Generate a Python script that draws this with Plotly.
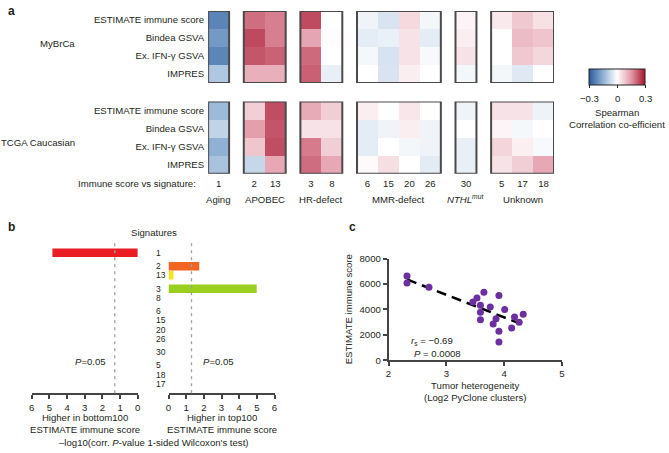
import numpy as np
import plotly.graph_objects as go

W, H = 669, 453
FONT = "Arial, 'Liberation Sans', Helvetica, sans-serif"
TXT = '#231f20'

# ---- panel a: spearman correlation, immune measure vs signature ----
signature_order = ['1', '2', '13', '3', '8', '6', '15', '20', '26', '30', '5', '17', '18']
group_names = ['Aging', 'APOBEC', 'HR-defect', 'MMR-defect',
               '<i>NTHL</i><sup><i>mut</i></sup>', 'Unknown']
group_sizes = [1, 2, 2, 4, 1, 3]
immune_measures = ['ESTIMATE immune score', 'Bindea GSVA', 'Ex. IFN-γ GSVA', 'IMPRES']

# one row per immune measure, columns follow signature_order
rho_mybrca = [
    [-0.227, 0.199, 0.180, 0.238, 0.000, -0.020, -0.051, 0.056, -0.016, 0.016, 0.033, 0.082, 0.045],
    [-0.190, 0.240, 0.180, 0.134, 0.005, -0.036, -0.029, 0.042, -0.036, 0.025, 0.000, 0.100, 0.088],
    [-0.225, 0.226, 0.213, 0.204, 0.000, -0.013, -0.054, 0.042, -0.011, 0.042, 0.000, 0.082, 0.059],
    [-0.106, 0.117, 0.117, 0.215, -0.031, 0.000, -0.051, 0.025, 0.000, -0.016, -0.016, -0.042, 0.000],
]
rho_tcga = [
    [-0.131, 0.071, 0.235, 0.126, 0.074, 0.025, 0.000, 0.037, 0.000, -0.020, 0.042, 0.042, -0.023],
    [-0.083, 0.143, 0.228, 0.042, 0.042, -0.036, -0.020, 0.025, -0.020, 0.000, 0.016, -0.013, 0.000],
    [-0.149, 0.085, 0.235, 0.185, 0.074, -0.036, 0.000, -0.016, -0.020, -0.030, 0.062, 0.024, -0.011],
    [-0.115, -0.076, 0.130, 0.200, 0.130, 0.007, 0.048, 0.000, -0.038, -0.030, 0.042, 0.074, 0.130],
]
cbar_ticks = [-0.3, 0, 0.3]
cbar_labels = ['−0.3', '0', '0.3']

# ---- panel b: -log10 corrected P, Wilcoxon ----
wilcox_signatures = ['1', '2', '13', '3', '8', '6', '15', '20', '26', '30', '5', '18', '17']
wilcox_groups = [1, 2, 2, 4, 1, 3]
higher_in_bottom100 = [4.83, 0, 0, 0, 0, 0, 0, 0, 0, 0, 0, 0, 0]
higher_in_top100 = [0, 1.74, 0.28, 4.99, 0, 0, 0, 0, 0, 0, 0, 0, 0]

# ---- panel c: heterogeneity vs immune score ----
heterogeneity = [2.32, 2.32, 2.70, 3.46, 3.53, 3.65, 3.91, 3.59, 3.76, 3.59,
                 4.01, 3.59, 3.86, 4.18, 4.33, 3.81, 4.26, 4.13, 3.91, 3.91]
immune_score = [6640, 6080, 5750, 4590, 4900, 5360, 5100, 4330, 4200, 3770,
                4000, 3180, 3260, 3410, 3620, 2850, 3000, 2540, 2280, 1440]

bar_colors = {'1': '#ec1c24', '2': '#f26522', '13': '#f7e31a', '3': '#9bcf1f'}
colorscale = [[0, '#2a5a9c'], [0.25, '#8fb0d4'], [0.5, '#ffffff'],
              [0.75, '#e39aa9'], [1, '#a6142d']]


def px(x, y):
    return x / W, 1 - y / H


fig = go.Figure()
annots = []


def note(text, x, y, size=9.6, xanchor='center', **kw):
    ax, ay = px(x, y)
    annots.append(dict(text=text, x=ax, y=ay, xref='paper', yref='paper',
                       xanchor=xanchor, yanchor='middle', showarrow=False,
                       font=dict(size=size, color=TXT, family=FONT), **kw))


# heatmap column positions, with a gap between signature groups
GAP = 0.7
col_pos = []
for gi, n in enumerate(group_sizes):
    start = len(col_pos)
    col_pos += [start + k + GAP * gi for k in range(n)]

for (xa, ya), rho in ((('x', 'y'), rho_mybrca), (('x2', 'y2'), rho_tcga)):
    z = np.array(rho)
    s = 0
    for gi, n in enumerate(group_sizes):
        fig.add_trace(go.Heatmap(z=z[:, s:s + n], x0=col_pos[s], dx=1, y0=0, dy=1,
                                 coloraxis='coloraxis', xaxis=xa, yaxis=ya,
                                 hoverinfo='skip'))
        fig.add_shape(type='rect', xref=xa, yref=ya,
                      x0=col_pos[s] - 0.5, x1=col_pos[s + n - 1] + 0.5, y0=-0.5, y1=3.5,
                      line=dict(color='#4a4a4a', width=2))
        if xa == 'x2':
            annots.append(dict(text=group_names[gi], x=(col_pos[s] + col_pos[s + n - 1]) / 2,
                               y=px(0, 198)[1], xref='x2', yref='paper', showarrow=False,
                               font=dict(size=9.6, color=TXT, family=FONT)))
        s += n

# panel b bars
sig_y = []
p = 0.0
for n in wilcox_groups:
    for k in range(n):
        sig_y.append(p)
        p += 1
    p += 0.45
cols_b = [bar_colors.get(s, '#999') for s in wilcox_signatures]
fig.add_trace(go.Bar(x=higher_in_bottom100, y=sig_y, orientation='h', width=0.92,
                     marker=dict(color=cols_b, line=dict(width=0)), xaxis='x3', yaxis='y3',
                     hoverinfo='skip'))
fig.add_trace(go.Bar(x=higher_in_top100, y=sig_y, orientation='h', width=0.92,
                     marker=dict(color=cols_b, line=dict(width=0)), xaxis='x4', yaxis='y4',
                     hoverinfo='skip'))
cutoff = -np.log10(0.05)
for xa, ya in (('x3', 'y3'), ('x4', 'y4')):
    fig.add_shape(type='line', xref=xa, yref=ya + ' domain', x0=cutoff, x1=cutoff, y0=0, y1=1,
                  line=dict(color='#a0a0a0', width=1.3, dash='3px,4px'), layer='above')
for s, yv in zip(wilcox_signatures, sig_y):
    annots.append(dict(text=s, x=152 / W, y=yv, xref='paper', yref='y3', showarrow=False,
                       font=dict(size=8.5, color=TXT, family=FONT)))

# panel c scatter + fit
hx = np.array(heterogeneity)
hy = np.array(immune_score)
slope, icpt = np.polyfit(hx, hy, 1)
fx = np.array([hx.min(), hx.max()])
fig.add_trace(go.Scatter(x=fx, y=slope * fx + icpt, mode='lines', xaxis='x5', yaxis='y5',
                         line=dict(color='black', width=2.5, dash='10px,6px'), hoverinfo='skip'))
fig.add_trace(go.Scatter(x=hx, y=hy, mode='markers', xaxis='x5', yaxis='y5',
                         marker=dict(color='#6b2fa0', size=7), hoverinfo='skip'))

hide = dict(showgrid=False, zeroline=False, showline=False)
tickf = dict(size=9.6, color=TXT, family=FONT)
line_ax = dict(showgrid=False, zeroline=False, showline=True, linecolor='#444', linewidth=1.5,
               ticks='outside', ticklen=4, tickwidth=1.5, tickcolor='#444', tickfont=tickf)

# colorbar: 592..648 px wide, 67..83 px tall
CB_X0, CB_X1 = 592, 648
xr = [-0.5, col_pos[-1] + 0.5]
fig.update_layout(
    width=W, height=H, margin=dict(l=0, r=0, t=0, b=0),
    paper_bgcolor='white', plot_bgcolor='white', showlegend=False,
    font=dict(family=FONT, color=TXT),
    coloraxis=dict(colorscale=colorscale, cmin=-0.3, cmax=0.3,
                   colorbar=dict(orientation='h', x=(CB_X0 + CB_X1) / 2 / W, xanchor='center',
                                 y=px(0, 75)[1], yanchor='middle', len=CB_X1 - CB_X0,
                                 lenmode='pixels', thickness=16, xpad=0, ypad=0,
                                 outlinewidth=1, outlinecolor='#222', tickvals=cbar_ticks,
                                 ticks='outside', ticklen=3, tickcolor='#222',
                                 showticklabels=False)),
    xaxis=dict(domain=[207 / W, 556 / W], range=xr, anchor='y', showticklabels=False, **hide),
    yaxis=dict(domain=[px(0, 79)[1], px(0, 5)[1]], range=[3.5, -0.5], anchor='x',
               tickvals=[0, 1, 2, 3], ticktext=immune_measures, ticks='', tickfont=tickf,
               ticklabelstandoff=3, **hide),
    xaxis2=dict(domain=[207 / W, 556 / W], range=xr, anchor='y2', tickvals=col_pos,
                ticktext=signature_order, ticks='', tickfont=tickf, ticklabelstandoff=3, **hide),
    yaxis2=dict(domain=[px(0, 172)[1], px(0, 98)[1]], range=[3.5, -0.5], anchor='x2',
                tickvals=[0, 1, 2, 3], ticktext=immune_measures, ticks='', tickfont=tickf,
                ticklabelstandoff=3, **hide),
    xaxis3=dict(domain=[29 / W, 136 / W], range=[6, 0], anchor='y3', tickvals=list(range(7)),
                **line_ax),
    yaxis3=dict(domain=[px(0, 397)[1], px(0, 243)[1]], range=[15.3, -1.06], anchor='x3',
                visible=False),
    xaxis4=dict(domain=[167 / W, 274 / W], range=[0, 6], anchor='y4', tickvals=list(range(7)),
                **line_ax),
    yaxis4=dict(domain=[px(0, 397)[1], px(0, 243)[1]], range=[15.3, -1.06], anchor='x4',
                visible=False),
    xaxis5=dict(domain=[389 / W, 564 / W], range=[2, 5], anchor='y5', tickvals=[2, 3, 4, 5],
                **line_ax),
    yaxis5=dict(domain=[px(0, 363)[1], px(0, 259)[1]], range=[0, 8000], anchor='x5',
                tickvals=[0, 2000, 4000, 6000, 8000], **line_ax),
)

# colorbar tick labels, placed along the bar by value
for v, lab in zip(cbar_ticks, cbar_labels):
    note(lab, CB_X0 + (v + 0.3) / 0.6 * (CB_X1 - CB_X0), 95)

# text
note('<b>a</b>', 3, 5, size=12, xanchor='left')
note('<b>b</b>', 3, 226, size=12, xanchor='left')
note('<b>c</b>', 347, 227, size=12, xanchor='left')
note('MyBrCa', 75, 38, xanchor='right')
note('TCGA Caucasian', 75, 140, xanchor='right')
note('Immune score vs signature:', 197, 182, xanchor='right')
note('Spearman', 620, 109)
note('Correlation co-efficient', 620, 121)
note('Signatures', 152, 232)
note('<i>P</i>=0.05', 88, 364)
note('<i>P</i>=0.05', 217, 364)
note('Higher in bottom100<br>ESTIMATE immune score', 83, 428)
note('Higher in top100<br>ESTIMATE immune score', 221, 428)
note('–log10(corr. <i>P</i>-value 1-sided Wilcoxon\'s test)', 152, 447)
note('ESTIMATE immune score', 349, 311, textangle=-90)
note('Tumor heterogeneity<br>(Log2 PyClone clusters)', 476, 395)
note('<i>r</i><sub>s</sub> = −0.69', 410, 343, xanchor='left')
note('<i>P</i> = 0.0008', 413, 356, xanchor='left')

fig.update_layout(annotations=annots)
# page body margin would push the figure off the window edges
fig.write_html("out.html", config={'displayModeBar': False},
               post_script="document.body.style.margin='0';")
